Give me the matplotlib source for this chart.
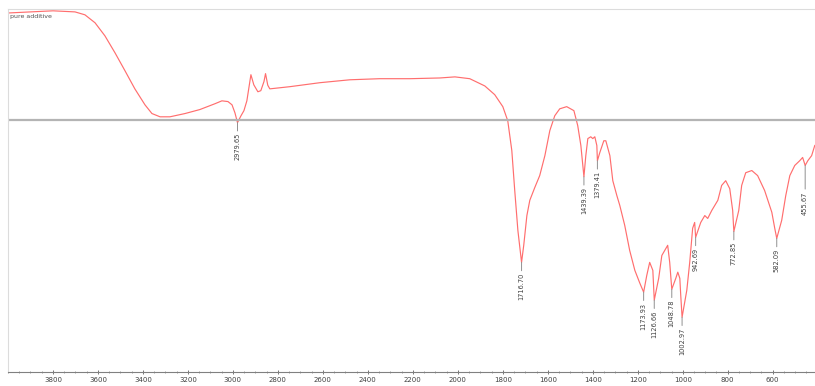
import matplotlib.pyplot as plt
import numpy as np
from matplotlib.ticker import MultipleLocator

# ==================== spectrum ====================
wavenumber = [
    4000, 3902, 3800, 3702, 3658, 3613, 3569, 3524, 3480, 3436, 3391, 3360,
    3324, 3280, 3213, 3147, 3080, 3049, 3022, 3004, 2991, 2979.65, 2964, 2951,
    2938, 2924, 2920, 2907, 2889, 2876, 2862, 2855, 2845, 2836, 2747, 2613, 2480,
    2347, 2213, 2080, 2013, 1947, 1880, 1836, 1800, 1778, 1760, 1747, 1733,
    1716.70, 1707, 1693, 1680, 1658, 1636, 1613, 1591, 1569, 1547, 1516, 1484,
    1467, 1453, 1439.39, 1431, 1422, 1409, 1400, 1391, 1382, 1379.41, 1369,
    1351, 1342, 1324, 1311, 1293, 1280, 1258, 1236, 1213, 1191, 1173.93, 1160,
    1147, 1133, 1126.66, 1107, 1093, 1080, 1067, 1058, 1048.78, 1031, 1022,
    1013, 1009, 1002.97, 982, 969, 956, 947, 942.69, 920, 902, 889, 871, 844,
    827, 809, 791, 778, 772.85, 751, 738, 720, 693, 667, 636, 604, 591, 582.09,
    560, 542, 524, 502, 480, 467, 455.67, 444, 427, 413,
]
transmittance = [
    98.9, 99.2, 99.5, 99.2, 98.4, 96.2, 92.6, 87.9, 83.0, 78.0, 73.6, 71.2,
    70.3, 70.3, 71.2, 72.3, 73.9, 74.7, 74.5, 73.6, 71.4, 68.7, 70.6, 72.0,
    74.7, 80.2, 81.9, 79.1, 77.2, 77.5, 80.0, 82.2, 79.0, 78.0, 78.6, 79.7, 80.5,
    80.8, 80.8, 81.0, 81.3, 80.8, 78.8, 76.4, 73.1, 69.2, 61.0, 50.0, 39.0,
    30.2, 34.9, 43.1, 47.3, 50.8, 54.1, 59.6, 66.5, 70.6, 72.5, 73.1, 72.0,
    67.9, 62.4, 53.8, 59.6, 64.3, 64.8, 64.3, 64.8, 62.4, 58.2, 60.4,
    63.7, 63.7, 59.6, 52.7, 48.6, 45.9, 40.4, 33.5, 28.0, 24.5, 22.0, 26.6,
    30.2, 28.0, 19.8, 25.8, 32.1, 33.5, 34.9, 30.2, 22.8, 25.8, 27.5,
    25.8, 21.2, 15.1, 22.5, 30.2, 39.6, 41.2, 37.1, 41.2, 43.1, 42.3, 44.5, 47.3,
    51.4, 52.7, 50.5, 44.5, 38.7, 44.5, 51.4, 54.9, 55.5, 54.1, 50.0, 44.0, 39.6, 36.8,
    41.8, 48.6, 54.1, 56.9, 58.2, 59.1, 56.9, 58.2, 59.6, 62.4,
]

peak_positions = [2979.65, 1716.70, 1439.39, 1379.41, 1173.93, 1126.66,
                  1048.78, 1002.97, 942.69, 772.85, 582.09, 455.67]
peak_labels = ["2979.65", "1716.70", "1439.39", "1379.41", "1173.93", "1126.66",
               "1048.78", "1002.97", "942.69", "772.85", "582.09", "455.67"]
leader_lengths = [6, 6, 6, 6, 6, 6, 6, 6, 6, 6, 6, 17]   # pt

BASELINE = 69.5
SAMPLE_NAME = "pure additive"

# ============================================================

fig = plt.figure(figsize=(8.15, 3.86), dpi=100)
ax = fig.add_axes([8 / 815, 14 / 386, 807 / 815, 363 / 386])

ax.plot(wavenumber, transmittance, color="#ff6e6e", linewidth=0.85)
ax.axhline(BASELINE, color="#b4b4b4", linewidth=1.6)

order = np.argsort(wavenumber)
wn_sorted = np.asarray(wavenumber)[order]
t_sorted = np.asarray(transmittance)[order]
for pos, label, length in zip(peak_positions, peak_labels, leader_lengths):
    t_peak = float(np.interp(pos, wn_sorted, t_sorted))
    ax.annotate(
        "", xy=(pos, t_peak), xytext=(0, -length), textcoords="offset points",
        arrowprops=dict(arrowstyle="-", color="#909090", lw=0.7,
                        shrinkA=0, shrinkB=0),
    )
    ax.annotate(
        label, xy=(pos, t_peak), xytext=(0, -length - 1.5),
        textcoords="offset points", rotation=90, ha="center", va="top",
        fontsize=4.8, color="#404040",
    )

ax.text(0.003, 0.985, SAMPLE_NAME, transform=ax.transAxes, fontsize=4.5,
        color="#505050", ha="left", va="top")

ax.set_xlim(4000, 412)
ax.set_ylim(0, 100)
ax.xaxis.set_major_locator(MultipleLocator(200))
ax.xaxis.set_minor_locator(MultipleLocator(50))
ax.set_xticks([t for t in range(3800, 500, -200)])
ax.tick_params(axis="x", which="major", direction="inout", length=3,
               width=0.6, color="#606060", labelsize=5, labelcolor="#404040",
               pad=2)
ax.tick_params(axis="x", which="minor", direction="inout", length=2,
               width=0.5, color="#808080")
ax.set_yticks([])

for side in ("top", "left"):
    ax.spines[side].set_color("#dcdcdc")
    ax.spines[side].set_linewidth(0.8)
ax.spines["right"].set_visible(False)
ax.spines["bottom"].set_color("#808080")
ax.spines["bottom"].set_linewidth(0.8)

fig.savefig("out.png", dpi=100)
